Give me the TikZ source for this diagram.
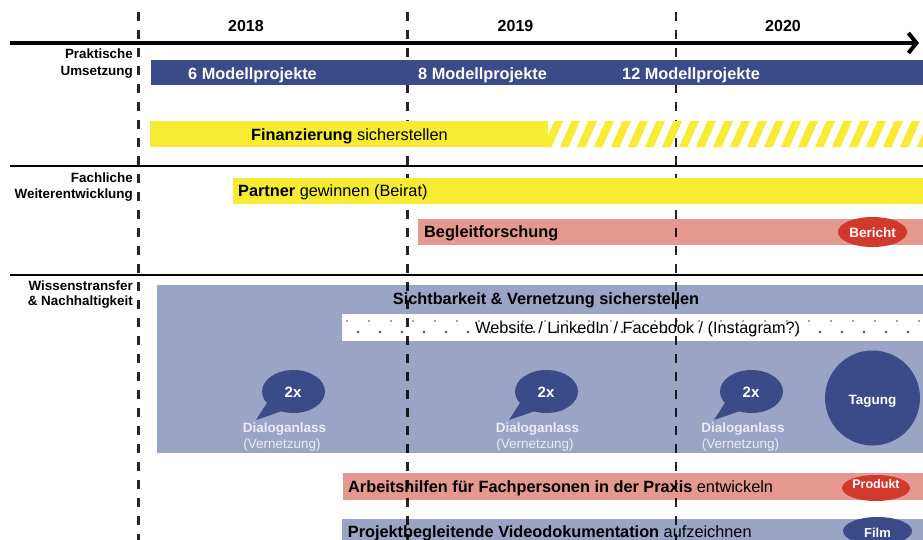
\documentclass[tikz,border=0pt]{standalone}
\usepackage{fontspec}
\setmainfont{Liberation Sans}
\usetikzlibrary{arrows.meta,shapes.geometric}
\definecolor{dblue}{HTML}{3B4A89}
\definecolor{yell}{HTML}{F7EC33}
\definecolor{pinkbar}{HTML}{E49890}
\definecolor{redell}{HTML}{D0392B}
\definecolor{lav}{HTML}{9AA4C4}
\definecolor{lighttxt}{HTML}{E9ECF5}
\begin{document}
\begin{tikzpicture}[x=1pt,y=-1pt,
  bartxt/.style={anchor=base west, inner sep=0pt, font=\fontsize{16.3}{18}\selectfont},
  ctrtxt/.style={anchor=base, inner sep=0pt, font=\fontsize{16.3}{18}\selectfont},
  yeartxt/.style={anchor=base, inner sep=0pt, font=\fontsize{16}{18}\selectfont\bfseries},
  rowtxt/.style={anchor=base east, inner sep=0pt, font=\fontsize{13.4}{15}\selectfont\bfseries},
  smalltxt/.style={anchor=base, inner sep=0pt, text=lighttxt, font=\fontsize{13.5}{15}\selectfont},
  ell/.style={ellipse, inner sep=0pt},
  yrline/.style={line width=2.7pt, dash pattern=on 9pt off 9pt, dash phase=0pt, draw opacity=0.85},
  sepline/.style={line width=2.4pt},
]
\useasboundingbox (0,0) rectangle (923,539);
\fill[white] (0,0) rectangle (923,539);

% ---------- semi-transparent style bars (under the year lines) ----------
\fill[pinkbar] (418,219) rectangle (923,245);
\fill[lav] (157,285) rectangle (923,453);
\fill[white] (342,314) rectangle (923,341);
\foreach \k in {0,...,26} \fill[dblue] (347+22*\k,321) circle (0.9pt);
\foreach \k in {0,...,25} \fill[dblue] (358+22*\k,332) circle (1.3pt);
\fill[pinkbar] (343,473) rectangle (923,500);
\fill[lav] (342,519) rectangle (923,540);

\node[bartxt] (begl) at (424,237.5) {\bfseries Begleitforschung};
\node[ctrtxt] (sicht) at (546,304.5) {\bfseries Sichtbarkeit \& Vernetzung sicherstellen};
\node[bartxt] (web) at (475,333.5) {Website / LinkedIn / Facebook / (Instagram?)};
\node[bartxt] (arb) at (348,492.5) {\textbf{Arbeitshilfen für Fachpersonen in der Praxis} entwickeln};
\node[bartxt] (vid) at (347.7,537) {\textbf{Projektbegleitende Videodokumentation} aufzeichnen};

% ---------- year lines ----------
\coordinate (v1t) at (138.5,12); \coordinate (v1b) at (138.5,545);
\coordinate (v2t) at (407.7,12); \coordinate (v2b) at (407.7,545);
\coordinate (v3t) at (676,12);   \coordinate (v3b) at (676,545);
\draw[yrline] (v1t) -- (v1b);
\draw[yrline] (v2t) -- (v2b);
\draw[yrline] (v3t) -- (v3b);

% ---------- opaque bars ----------
\fill[dblue] (151,60) rectangle (923,85);
\fill[yell] (150,121) rectangle (548,147);
\begin{scope}
  \clip (548,121) rectangle (923,147);
  \foreach \k in {0,...,24}
    \fill[yell] (526+17*\k,147) -- ++(8.5,0) -- ++(11.5,-26) -- ++(-8.5,0) -- cycle;
\end{scope}
\fill[yell] (233,178) rectangle (923,204);

\node[bartxt, text=white] (m6) at (188,79) {\bfseries 6 Modellprojekte};
\node[bartxt, text=white] (m8) at (418,79) {\bfseries 8 Modellprojekte};
\node[bartxt, text=white] (m12) at (622,79) {\bfseries 12 Modellprojekte};
\node[bartxt] (fin) at (251,140) {\textbf{Finanzierung} sicherstellen};
\node[bartxt] (partner) at (238,196) {\textbf{Partner} gewinnen (Beirat)};

% ---------- axis and separators ----------
\coordinate (ax0) at (10,43); \coordinate (ax1) at (919,43);
\draw[line width=4pt, -{Straight Barb[length=8pt,width=20pt]}] (ax0) -- (ax1);
\coordinate (s1a) at (10,166); \coordinate (s1b) at (923,166);
\coordinate (s2a) at (10,275); \coordinate (s2b) at (923,275);
\draw[sepline] (s1a) -- (s1b);
\draw[sepline] (s2a) -- (s2b);

\node[yeartxt] (y18) at (246,31.5) {2018};
\node[yeartxt] (y19) at (515.5,31.5) {2019};
\node[yeartxt] (y20) at (783,31.5) {2020};

\node[rowtxt] (r1a) at (133,58.7) {Praktische};
\node[rowtxt] (r1b) at (133,75) {Umsetzung};
\node[rowtxt] (r2a) at (133,182.3) {Fachliche};
\node[rowtxt] (r2b) at (133,198.3) {Weiterentwicklung};
\node[rowtxt] (r3a) at (133,290) {Wissenstransfer};
\node[rowtxt] (r3b) at (133,305.7) {\& Nachhaltigkeit};

% ---------- ellipses ----------
\node[ell, fill=redell, minimum width=69pt, minimum height=30pt] (bericht) at (872.5,232) {};
\node[anchor=base, inner sep=0pt, text=white, font=\fontsize{13.5}{15}\selectfont\bfseries] (berichtt) at (872.5,237.5) {Bericht};
\node[ell, fill=redell, minimum width=68pt, minimum height=26pt] (produkt) at (876,488) {};
\node[anchor=base, inner sep=0pt, text=white, font=\fontsize{12.5}{14}\selectfont\bfseries] (produktt) at (876,488.5) {Produkt};
\node[ell, fill=dblue, minimum width=69pt, minimum height=28pt] (film) at (877.5,531) {};
\node[anchor=base, inner sep=0pt, text=white, font=\fontsize{13}{15}\selectfont\bfseries] (filmt) at (877.5,537) {Film};

\node[circle, fill=dblue, minimum size=95pt, inner sep=0pt] (tagung) at (872.5,398) {};
\node[anchor=base, inner sep=0pt, text=white, font=\fontsize{13.5}{15}\selectfont\bfseries] (tagungt) at (872.5,404) {Tagung};

% ---------- speech bubbles ----------
\foreach \n/\cx/\dx in {b1/293.5/284.5, b2/546.5/537.5, b3/751.5/743} {
  \node[ell, fill=dblue, minimum width=63pt, minimum height=43pt] (\n) at (\cx,391.5) {};
  \fill[dblue] ([shift={(-25,9)}]\n.center) -- ([shift={(-37.5,28.5)}]\n.center) -- ([shift={(-10,19)}]\n.center) -- cycle;
  \node[anchor=base, inner sep=0pt, text=white, font=\fontsize{15}{17}\selectfont\bfseries] (\n t) at (\cx-0.5,397.5) {2x};
  \node[smalltxt, font=\fontsize{13.5}{15}\selectfont\bfseries] (\n d) at (\dx,432.5) {Dialoganlass};
  \node[smalltxt] (\n v) at (\dx-2.5,448.5) {(Vernetzung)};
}
\end{tikzpicture}
\end{document}
